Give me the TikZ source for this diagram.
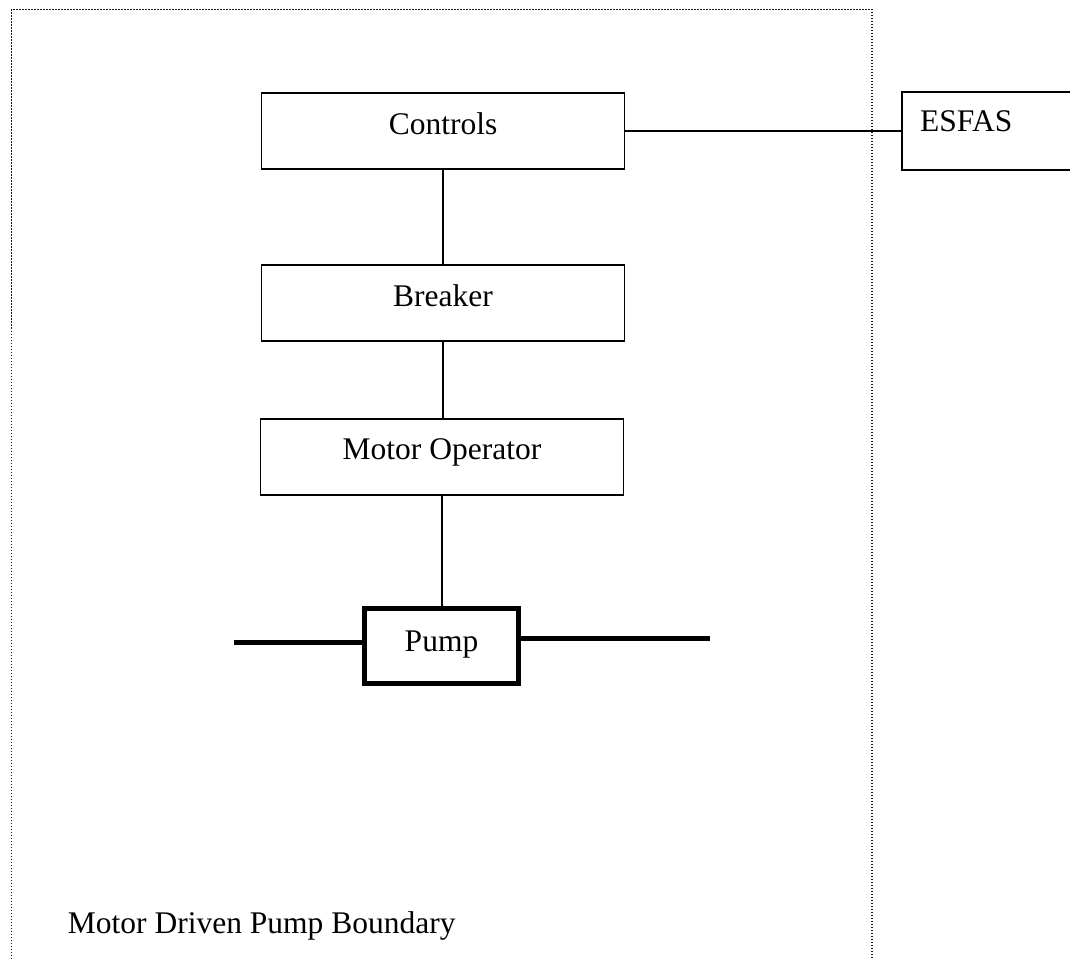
\documentclass[tikz,border=0pt]{standalone}
\usepackage{fontspec}
\setmainfont{Liberation Serif}
\begin{document}
\begin{tikzpicture}[x=1pt,y=-1pt,
  every node/.style={font=\fontsize{31.5}{38}\selectfont},
  box/.style={draw, line width=1.8pt, rectangle, inner sep=0pt, text height=22pt},
  link/.style={line width=1.8pt},
  pipe/.style={line width=5pt},
  boundary/.style={line width=1.6pt, black!90, dash pattern=on 1.5pt off 1.5pt}]
\useasboundingbox (0,0) rectangle (1070,960);
\clip (0,0) rectangle (1070,960);
% boundary
\draw[boundary] (11.5,965) -- (11.5,9.5) -- (872,9.5) -- (872,965);
% boxes
\node[box, minimum width=363pt, minimum height=76pt, text depth=15pt] (controls) at (443,131) {Controls};
\node[box, minimum width=363pt, minimum height=76pt, text depth=16pt] (breaker) at (443,303) {Breaker};
\node[box, minimum width=363pt, minimum height=76pt, text depth=18pt] (motor) at (442,457) {Motor Operator};
\node[box, line width=5pt, minimum width=154pt, minimum height=75pt, text depth=11pt] (pump) at (441.5,646) {Pump};
\node[box, anchor=west, minimum width=200pt, minimum height=78pt] (esfas) at (901,131) {};
\node[anchor=base west, inner sep=0pt] (esfastext) at (920,132) {ESFAS};
% connectors
\draw[link] (controls.east) -- (esfas.west);
\draw[link] (controls.south) -- (controls.south |- breaker.north);
\draw[link] (breaker.south) -- (breaker.south |- motor.north);
\draw[link] (motor.south) -- (motor.south |- pump.north);
\coordinate (pl) at (234,642);
\coordinate (pr) at (710,638);
\draw[pipe] (pl) -- (pl -| pump.west);
\draw[pipe] (pump.east |- pr) -- (pr);
% label
\node[anchor=base west, inner sep=0pt] (blabel) at (67.7,933) {Motor Driven Pump Boundary};
\end{tikzpicture}
\end{document}
